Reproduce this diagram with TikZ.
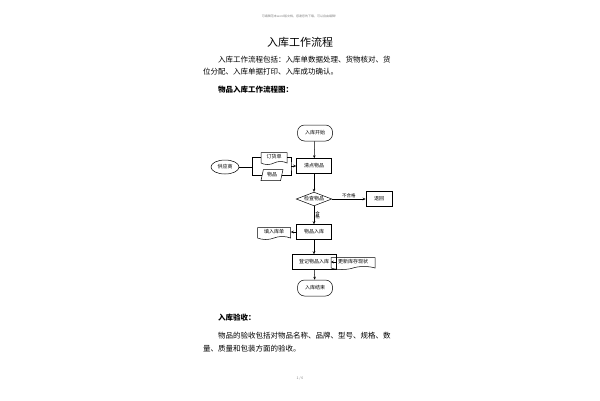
\documentclass[tikz,border=0pt]{standalone}
\usepackage{fontspec}
\setmainfont{Noto Sans CJK SC}
\usetikzlibrary{shapes.geometric,shapes.symbols,arrows.meta,positioning}
\tikzset{
  flow/.style={draw, line width=0.5pt, font=\fontsize{5}{6}\selectfont, inner sep=1pt},
  procbox/.style={flow, rectangle, minimum height=15pt},
  termbox/.style={flow, rounded corners=7pt, minimum width=35pt, minimum height=16pt},
  docbox/.style={flow, tape, tape bend top=none, tape bend height=3pt, minimum height=12pt},
  databox/.style={flow, trapezium, trapezium left angle=70, trapezium right angle=110, minimum height=11pt, trapezium stretches body},
  link/.style={line width=0.5pt, -{Stealth[length=3pt,width=2.5pt]}},
  bodytext/.style={anchor=west, font=\fontsize{7.5}{9}\selectfont, inner sep=0pt},
}
\begin{document}
\begin{tikzpicture}[x=1pt,y=-1pt]
  \useasboundingbox (0,0) rectangle (600,400);

  % page text
  \node[font=\fontsize{3}{4}\selectfont, text=gray] (head) at (300,16) {可编辑范本word版文档，感谢您的下载，可以自由编辑！};
  \node[font=\fontsize{11}{13}\selectfont] (title) at (300,42) {入库工作流程};
  \node[bodytext] (par1) at (218,60) {入库工作流程包括：入库单数据处理、货物核对、货};
  \node[bodytext] (par2) at (203,72) {位分配、入库单据打印、入库成功确认。};
  \node[bodytext, font=\fontsize{7.5}{9}\selectfont\bfseries] (chart) at (218,90) {物品入库工作流程图：};

  % flow chart
  \node[termbox] (start) at (315,133) {入库开始};
  \node[procbox, minimum width=35pt] (count) at (314,166) {清点物品};
  \node[flow, ellipse, minimum width=28pt, minimum height=14pt] (supplier) at (225,167) {供应商};
  \node[docbox, minimum width=26pt] (order) at (274,157) {订货单};
  \node[databox, minimum width=22pt] (goods) at (272,175) {物品};
  \node[flow, diamond, aspect=2.6, inner sep=0.5pt] (check) at (314,199) {检查物品};
  \node[procbox, minimum width=26pt] (back) at (379,199) {退回};
  \node[procbox, minimum width=35pt] (store) at (314,232) {物品入库};
  \node[docbox, minimum width=33pt] (form) at (274,232) {填入库单};
  \node[procbox, minimum width=44pt] (record) at (314,262) {登记物品入库};
  \node[docbox, minimum width=44pt] (update) at (353,262) {更新库存现状};
  \node[termbox] (finish) at (315,288) {入库结束};

  \coordinate (split) at (252,167);
  \coordinate (join) at (291,166);
  \draw[line width=0.5pt] (supplier.east) -- (split) |- (order.west);
  \draw[line width=0.5pt] (split) |- (goods.west);
  \draw[line width=0.5pt] (order.east) -| (join) |- (goods.east);
  \draw[link] (join) -- (count.west);

  \draw[link] (start) -- (count);
  \draw[link] (count) -- (check);
  \draw[link] (check.east) -- node[above, font=\fontsize{4.5}{5}\selectfont, inner sep=1pt] {不合格} (back.west);
  \draw[link] (check.south) -- node[right, font=\fontsize{4.5}{5}\selectfont, inner sep=1pt, align=center] {合\\[-2pt]格} (store.north);
  \draw[link] (store.west) -- (form.east);
  \draw[link] (store) -- (record);
  \draw[link] (record.east) -- (update.west);
  \draw[link] (record) -- (finish);

  % page text below
  \node[bodytext, font=\fontsize{7.5}{9}\selectfont\bfseries] (accept) at (218,318) {入库验收：};
  \node[bodytext] (par3) at (218,336) {物品的验收包括对物品名称、品牌、型号、规格、数};
  \node[bodytext] (par4) at (203,349) {量、质量和包装方面的验收。};
  \node[font=\fontsize{3.5}{4}\selectfont, text=gray] (page) at (300,378) {1 / 6};
\end{tikzpicture}
\end{document}
